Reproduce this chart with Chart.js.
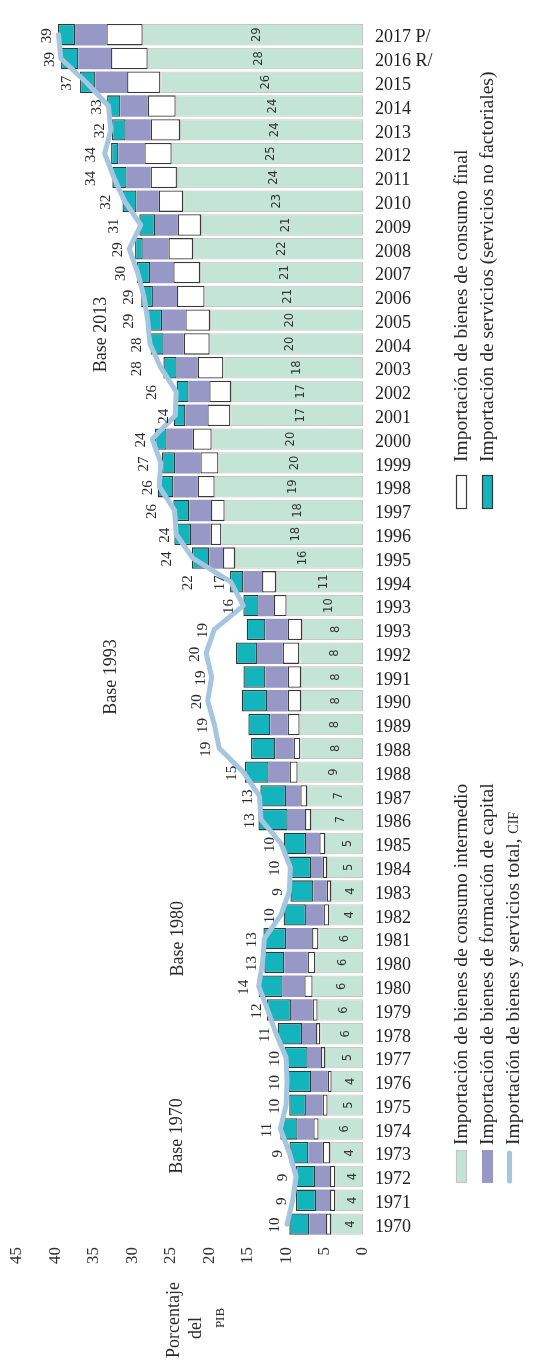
<!DOCTYPE html>
<html><head><meta charset="utf-8">
<script src="https://cdn.jsdelivr.net/npm/chart.js@4.4.1/dist/chart.umd.min.js"></script>
<style>html,body{margin:0;padding:0;background:#fff}#wrap{width:535px;height:1365px;position:relative}canvas{display:block}</style>
</head><body><div id="wrap"><canvas id="c" width="535" height="1365"></canvas></div>
<script>
// ---- DATA (chronological, 1970 first) ----
const categories = ['1970','1971','1972','1973','1974','1975','1976','1977','1978','1979','1980','1980','1981','1982','1983','1984','1985','1986','1987','1988','1988','1989','1990','1991','1992','1993','1993','1994','1995','1996','1997','1998','1999','2000','2001','2002','2003','2004','2005','2006','2007','2008','2009','2010','2011','2012','2013','2014','2015','2016 R/','2017 P/'];
const consumoIntermedio = [4.16,3.6,3.6,4.29,5.77,4.6,4.07,4.94,5.55,5.9,6.55,6.2,5.8,4.38,4.16,4.68,4.94,6.76,7.28,8.5,8.15,8.24,8.06,8.06,8.28,7.93,9.93,11.31,16.65,18.42,17.99,19.29,18.8,19.68,17.25,17.17,18.16,19.94,19.9,20.6,21.2,22.1,21.07,23.4,24.2,24.88,23.8,24.36,26.35,28.0,28.65];
const consumoFinal = [0.65,0.69,0.69,0.95,0.69,0.65,0.52,0.52,0.56,0.65,1.08,1.0,0.82,0.74,0.56,0.56,0.74,0.78,0.87,1.04,0.87,1.56,1.73,1.73,2.17,1.86,1.65,1.82,1.56,1.39,1.78,2.21,2.34,2.47,2.99,2.82,3.34,3.38,3.2,3.6,3.47,3.2,3.03,3.16,3.42,3.55,3.81,3.64,4.33,4.77,4.72];
const formacionCapital = [2.17,1.82,1.95,1.86,2.04,2.17,2.17,1.73,1.82,2.82,2.82,3.03,3.38,2.3,1.73,1.52,1.73,2.25,1.86,2.73,2.38,2.25,2.69,2.9,3.34,2.9,1.99,2.43,1.78,2.56,2.82,3.16,3.29,3.38,2.86,2.69,2.73,2.6,3.03,3.12,3.03,3.34,2.95,2.9,3.12,3.38,3.25,3.55,4.12,4.25,4.07];
const servicios = [2.6,2.6,2.47,2.47,2.25,2.17,2.95,3.03,3.16,3.12,3.12,2.6,2.95,2.9,2.99,2.95,2.9,3.81,3.34,3.08,3.16,2.86,3.29,2.86,2.73,2.43,1.99,1.73,2.25,2.17,2.08,2.04,1.73,1.52,1.52,1.56,1.73,1.69,1.82,1.52,1.69,1.0,2.04,1.82,1.86,0.95,1.78,1.73,2.0,2.25,2.25];
const totalCIF = [9.88,9.15,8.7,9.58,10.75,10.0,9.88,10.0,11.3,12.4,13.57,13.05,12.83,10.66,9.58,9.45,10.66,13.26,13.48,15.56,18.7,19.33,20.2,19.68,20.4,19.33,15.56,17.2,22.15,24.3,24.5,26.5,26.3,27.4,24.4,24.3,26.3,27.7,28.0,28.5,29.3,30.4,28.9,31.0,32.4,33.6,32.8,33.1,36.0,39.3,39.6];
const totalLabels = ['10','9','9','9','11','10','10','10','11','12','14','13','13','10','9','10','10','13','13','15','19','19','20','19','20','19','16','22 17','24','24','26','26','27','24','24','26','28','28','29','29','30','29','31','32','34','34','32','33','37','39','39'];
const intermedioLabels = ['4','4','4','4','6','5','4','5','6','6','6','6','6','4','4','5','5','7','7','9','8','8','8','8','8','8','10','11','16','18','18','19','20','20','17','17','18','20','20','21','21','22','21','23','24','25','24','24','26','28','29'];
const valueTicks = {min:0, max:45, step:5};
const baseNotes = [
  {text:'Base 2013', index:37.4, value:34.0},
  {text:'Base 1993', index:23.0, value:32.8},
  {text:'Base 1980', index:12.0, value:24.0},
  {text:'Base 1970', index:3.7, value:24.2}
];
const seriesNames = {
  intermedio:'Importación de bienes de consumo intermedio',
  capital:'Importación de bienes de formación de capital',
  total:'Importación de bienes y servicios total, ',
  totalSC:'CIF',
  final:'Importación de bienes de consumo final',
  servicios:'Importación de servicios (servicios no factoriales)'
};
const axisTitle = ['Porcentaje','del','PIB'];

// ---- STYLE ----
const C = {green:'#c4e4d6', greenB:'#c6c6c6', white:'#ffffff', whiteB:'#3a3a3a', purple:'#9898c6', teal:'#14b4bd', tealB:'#2c3b3c', line:'#a6c6df', text:'#2a2a2a'};
const SERIF = "'Liberation Serif', 'Times New Roman', serif";
const SANS = "'DejaVu Sans', sans-serif";

function rotText(ctx, text, x, y, font, color, align){
  ctx.save(); ctx.translate(x, y); ctx.rotate(-Math.PI/2);
  ctx.font = font; ctx.fillStyle = color; ctx.textAlign = align || 'center'; ctx.textBaseline = 'middle';
  ctx.fillText(text, 0, 0); ctx.restore();
}

const annot = {
  id:'annot',
  afterDatasetsDraw(chart){
    const ctx = chart.ctx, xs = chart.scales.x, ys = chart.scales.y;
    intermedioLabels.forEach((t,i)=>{
      const x = (xs.getPixelForValue(0) + xs.getPixelForValue(consumoIntermedio[i]))/2 + 4;
      const y = ys.getPixelForValue(i);
      rotText(ctx, t, x, y, '11.5px '+SANS, '#333');
    });
    totalLabels.forEach((t,i)=>{
      const y = ys.getPixelForValue(i);
      const parts = t.split(' ');
      parts.forEach((p,k)=>{
        let x;
        if (parts.length > 1 && k === 0) x = xs.getPixelForValue(+p) - 6;
        else x = Math.min(xs.getPixelForValue(+p), xs.getPixelForValue(totalCIF[i])) - 11;
        rotText(ctx, p, x, y + 1, '15px '+SERIF, C.text);
      });
    });
  },
  afterDraw(chart){
    const ctx = chart.ctx, xs = chart.scales.x, ys = chart.scales.y;
    baseNotes.forEach(b=>{
      rotText(ctx, b.text, xs.getPixelForValue(b.value), ys.getPixelForValue(b.index), '18px '+SERIF, C.text);
    });
    const rect = (x,y,w,h,fill,stroke)=>{
      ctx.save(); ctx.fillStyle = fill; ctx.fillRect(x,y,w,h);
      if (stroke){ ctx.strokeStyle = stroke; ctx.lineWidth = 1.2; ctx.strokeRect(x+0.5,y+0.5,w-1,h-1); }
      ctx.restore();
    };
    const LF = '19.5px '+SERIF;
    rect(456,1150,11,33,C.green,C.greenB);
    rotText(ctx, seriesNames.intermedio, 462, 1145, LF, C.text, 'left');
    rect(482,1150,11,33,C.purple,null);
    rotText(ctx, seriesNames.capital, 488, 1145, LF, C.text, 'left');
    ctx.save(); ctx.strokeStyle = C.line; ctx.lineWidth = 5; ctx.lineCap = 'round';
    ctx.beginPath(); ctx.moveTo(509.5,1153); ctx.lineTo(509.5,1181); ctx.stroke(); ctx.restore();
    rotText(ctx, seriesNames.total, 514, 1145, LF, C.text, 'left');
    ctx.save(); ctx.font = LF; const w = ctx.measureText(seriesNames.total).width; ctx.restore();
    rotText(ctx, seriesNames.totalSC, 514, 1145 - w, '14px '+SERIF, C.text, 'left');
    rect(456,475,11,34,C.white,C.whiteB);
    rotText(ctx, seriesNames.final, 462, 462, LF, C.text, 'left');
    rect(482,475,11,34,C.teal,C.tealB);
    rotText(ctx, seriesNames.servicios, 488, 462, LF, C.text, 'left');
    rotText(ctx, axisTitle[0], 174, 1320, '18px '+SERIF, C.text);
    rotText(ctx, axisTitle[1], 196, 1328, '18px '+SERIF, C.text);
    rotText(ctx, axisTitle[2], 221, 1318, '13px '+SERIF, C.text);
  }
};

const barCommon = {stack:'imp', order:1, barPercentage:0.9, categoryPercentage:1, borderSkipped:false};
new Chart(document.getElementById('c').getContext('2d'), {
  type:'bar',
  data:{
    labels: categories,
    datasets:[
      {type:'line', indexAxis:'y', label:seriesNames.total+seriesNames.totalSC, data:totalCIF, borderColor:C.line, borderWidth:5, pointRadius:0, tension:0, stack:'total', order:0, borderJoinStyle:'round', borderCapStyle:'round', fill:false},
      Object.assign({label:seriesNames.intermedio, data:consumoIntermedio, backgroundColor:C.green, borderColor:C.greenB, borderWidth:1}, barCommon),
      Object.assign({label:seriesNames.final, data:consumoFinal, backgroundColor:C.white, borderColor:C.whiteB, borderWidth:1.3}, barCommon),
      Object.assign({label:seriesNames.capital, data:formacionCapital, backgroundColor:C.purple, borderWidth:0}, barCommon),
      Object.assign({label:seriesNames.servicios, data:servicios, backgroundColor:C.teal, borderColor:C.tealB, borderWidth:1.3}, barCommon)
    ]
  },
  options:{
    indexAxis:'y', responsive:false, animation:false, devicePixelRatio:1,
    layout:{padding:{left:17, right:82, top:5, bottom:0}},
    plugins:{legend:{display:false}, tooltip:{enabled:false}},
    scales:{
      x:{type:'linear', position:'bottom', reverse:true, min:valueTicks.min, max:valueTicks.max, stacked:true,
         grid:{display:false, drawTicks:false}, border:{display:false},
         ticks:{stepSize:valueTicks.step, minRotation:90, maxRotation:90, padding:11, color:'#333', font:{family:SERIF, size:17}},
         afterFit(s){ s.height = 129; }},
      y:{type:'category', position:'right', reverse:true, stacked:true,
         grid:{display:false, drawTicks:false}, border:{display:false},
         ticks:{autoSkip:false, padding:12, labelOffset:3, color:'#222', font:{family:SERIF, size:18}},
         afterFit(s){ s.width = 90; }}
    }
  },
  plugins:[annot]
});
</script></body></html>
